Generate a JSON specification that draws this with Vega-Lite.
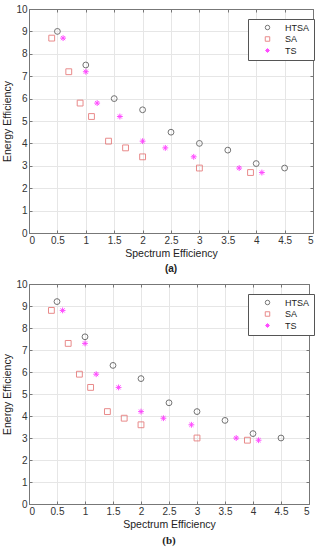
{
  "$schema": "https://vega.github.io/schema/vega-lite/v6.json",
  "padding": {"left": 2, "top": 3, "right": 2, "bottom": 2},
  "background": "white",
  "spacing": 4,
  "datasets": {
    "a": [
      {"method": "HTSA", "se": 0.5, "ee": 9.0},
      {"method": "HTSA", "se": 1.0, "ee": 7.5},
      {"method": "HTSA", "se": 1.5, "ee": 6.0},
      {"method": "HTSA", "se": 2.0, "ee": 5.5},
      {"method": "HTSA", "se": 2.5, "ee": 4.5},
      {"method": "HTSA", "se": 3.0, "ee": 4.0},
      {"method": "HTSA", "se": 3.5, "ee": 3.7},
      {"method": "HTSA", "se": 4.0, "ee": 3.1},
      {"method": "HTSA", "se": 4.5, "ee": 2.9},
      {"method": "SA", "se": 0.4, "ee": 8.7},
      {"method": "SA", "se": 0.7, "ee": 7.2},
      {"method": "SA", "se": 0.9, "ee": 5.8},
      {"method": "SA", "se": 1.1, "ee": 5.2},
      {"method": "SA", "se": 1.4, "ee": 4.1},
      {"method": "SA", "se": 1.7, "ee": 3.8},
      {"method": "SA", "se": 2.0, "ee": 3.4},
      {"method": "SA", "se": 3.0, "ee": 2.9},
      {"method": "SA", "se": 3.9, "ee": 2.7},
      {"method": "TS", "se": 0.6, "ee": 8.7},
      {"method": "TS", "se": 1.0, "ee": 7.2},
      {"method": "TS", "se": 1.2, "ee": 5.8},
      {"method": "TS", "se": 1.6, "ee": 5.2},
      {"method": "TS", "se": 2.0, "ee": 4.1},
      {"method": "TS", "se": 2.4, "ee": 3.8},
      {"method": "TS", "se": 2.9, "ee": 3.4},
      {"method": "TS", "se": 3.7, "ee": 2.9},
      {"method": "TS", "se": 4.1, "ee": 2.7}
    ],
    "b": [
      {"method": "HTSA", "se": 0.5, "ee": 9.2},
      {"method": "HTSA", "se": 1.0, "ee": 7.6},
      {"method": "HTSA", "se": 1.5, "ee": 6.3},
      {"method": "HTSA", "se": 2.0, "ee": 5.7},
      {"method": "HTSA", "se": 2.5, "ee": 4.6},
      {"method": "HTSA", "se": 3.0, "ee": 4.2},
      {"method": "HTSA", "se": 3.5, "ee": 3.8},
      {"method": "HTSA", "se": 4.0, "ee": 3.2},
      {"method": "HTSA", "se": 4.5, "ee": 3.0},
      {"method": "SA", "se": 0.4, "ee": 8.8},
      {"method": "SA", "se": 0.7, "ee": 7.3},
      {"method": "SA", "se": 0.9, "ee": 5.9},
      {"method": "SA", "se": 1.1, "ee": 5.3},
      {"method": "SA", "se": 1.4, "ee": 4.2},
      {"method": "SA", "se": 1.7, "ee": 3.9},
      {"method": "SA", "se": 2.0, "ee": 3.6},
      {"method": "SA", "se": 3.0, "ee": 3.0},
      {"method": "SA", "se": 3.9, "ee": 2.9},
      {"method": "TS", "se": 0.6, "ee": 8.8},
      {"method": "TS", "se": 1.0, "ee": 7.3},
      {"method": "TS", "se": 1.2, "ee": 5.9},
      {"method": "TS", "se": 1.6, "ee": 5.3},
      {"method": "TS", "se": 2.0, "ee": 4.2},
      {"method": "TS", "se": 2.4, "ee": 3.9},
      {"method": "TS", "se": 2.9, "ee": 3.6},
      {"method": "TS", "se": 3.7, "ee": 3.0},
      {"method": "TS", "se": 4.1, "ee": 2.9}
    ]
  },
  "vconcat": [
    {
      "width": 284,
      "height": 224,
      "data": {"name": "a"},
      "title": {"text": "(a)", "orient": "bottom", "fontSize": 10, "fontWeight": "bold", "font": "Liberation Sans", "offset": 5, "color": "#222"},
      "layer": [
        {
          "mark": {"type": "point", "filled": false, "strokeWidth": 1, "size": 34},
          "encoding": {
            "x": {"field": "se", "type": "quantitative", "scale": {"domain": [0, 5], "nice": false}, "axis": {"title": "Spectrum Efficiency", "values": [0,0.5,1,1.5,2,2.5,3,3.5,4,4.5,5], "format": "~g"}},
            "y": {"field": "ee", "type": "quantitative", "scale": {"domain": [0, 10], "nice": false}, "axis": {"title": "Energy Efficiency", "values": [0,1,2,3,4,5,6,7,8,9,10]}},
            "shape": {"field": "method", "type": "nominal", "scale": {"domain": ["HTSA", "SA", "TS"], "range": ["circle", "square", "M0,-1L0,1M-1,0L1,0M-0.7,-0.7L0.7,0.7M-0.7,0.7L0.7,-0.7"]}, "legend": {"title": null}},
            "color": {"field": "method", "type": "nominal", "scale": {"domain": ["HTSA", "SA", "TS"], "range": ["#3a3a3a", "#e05a5a", "#ff00ff"]}, "legend": {"title": null}}
          }
        },
        {
          "mark": {"type": "point", "opacity": 0},
          "encoding": {
            "x": {"field": "se", "type": "quantitative", "axis": {"orient": "top", "labels": false, "title": null, "grid": false, "values": [0,0.5,1,1.5,2,2.5,3,3.5,4,4.5,5]}},
            "y": {"field": "ee", "type": "quantitative", "axis": {"orient": "right", "labels": false, "title": null, "grid": false, "values": [0,1,2,3,4,5,6,7,8,9,10]}}
          }
        }
      ],
      "resolve": {"axis": {"x": "independent", "y": "independent"}}
    },
    {
      "width": 280,
      "height": 220,
      "data": {"name": "b"},
      "title": {"text": "(b)", "orient": "bottom", "fontSize": 11, "fontWeight": "bold", "font": "Liberation Serif", "offset": 5, "color": "#222"},
      "layer": [
        {
          "mark": {"type": "point", "filled": false, "strokeWidth": 1, "size": 34},
          "encoding": {
            "x": {"field": "se", "type": "quantitative", "scale": {"domain": [0, 5], "nice": false}, "axis": {"title": "Spectrum Efficiency", "values": [0,0.5,1,1.5,2,2.5,3,3.5,4,4.5,5], "format": "~g"}},
            "y": {"field": "ee", "type": "quantitative", "scale": {"domain": [0, 10], "nice": false}, "axis": {"title": "Energy Efficiency", "values": [0,1,2,3,4,5,6,7,8,9,10]}},
            "shape": {"field": "method", "type": "nominal", "scale": {"domain": ["HTSA", "SA", "TS"], "range": ["circle", "square", "M0,-1L0,1M-1,0L1,0M-0.7,-0.7L0.7,0.7M-0.7,0.7L0.7,-0.7"]}, "legend": {"title": null}},
            "color": {"field": "method", "type": "nominal", "scale": {"domain": ["HTSA", "SA", "TS"], "range": ["#3a3a3a", "#e05a5a", "#ff00ff"]}, "legend": {"title": null}}
          }
        },
        {
          "mark": {"type": "point", "opacity": 0},
          "encoding": {
            "x": {"field": "se", "type": "quantitative", "axis": {"orient": "top", "labels": false, "title": null, "grid": false, "values": [0,0.5,1,1.5,2,2.5,3,3.5,4,4.5,5]}},
            "y": {"field": "ee", "type": "quantitative", "axis": {"orient": "right", "labels": false, "title": null, "grid": false, "values": [0,1,2,3,4,5,6,7,8,9,10]}}
          }
        }
      ],
      "resolve": {"axis": {"x": "independent", "y": "independent"}}
    }
  ],
  "resolve": {"scale": {"shape": "independent", "color": "independent"}, "legend": {"shape": "independent", "color": "independent"}},
  "config": {
    "font": "Liberation Sans",
    "view": {"stroke": "#777", "strokeWidth": 1},
    "axis": {
      "grid": true,
      "gridColor": "#e6e6e6",
      "domainColor": "#777",
      "tickColor": "#777",
      "tickSize": -3,
      "labelFontSize": 10,
      "labelColor": "#333",
      "labelPadding": 5,
      "titleFontSize": 10.5,
      "titleFontWeight": "normal",
      "titleColor": "#222",
      "titlePadding": 3
    },
    "legend": {
      "orient": "none",
      "legendX": 219,
      "legendY": 10,
      "strokeColor": "#555",
      "fillColor": "white",
      "padding": 4,
      "labelFontSize": 9,
      "labelColor": "#222",
      "rowPadding": 1.5,
      "symbolSize": 20,
      "symbolOffset": 11,
      "labelOffset": 13,
      "symbolStrokeWidth": 1
    }
  }
}
